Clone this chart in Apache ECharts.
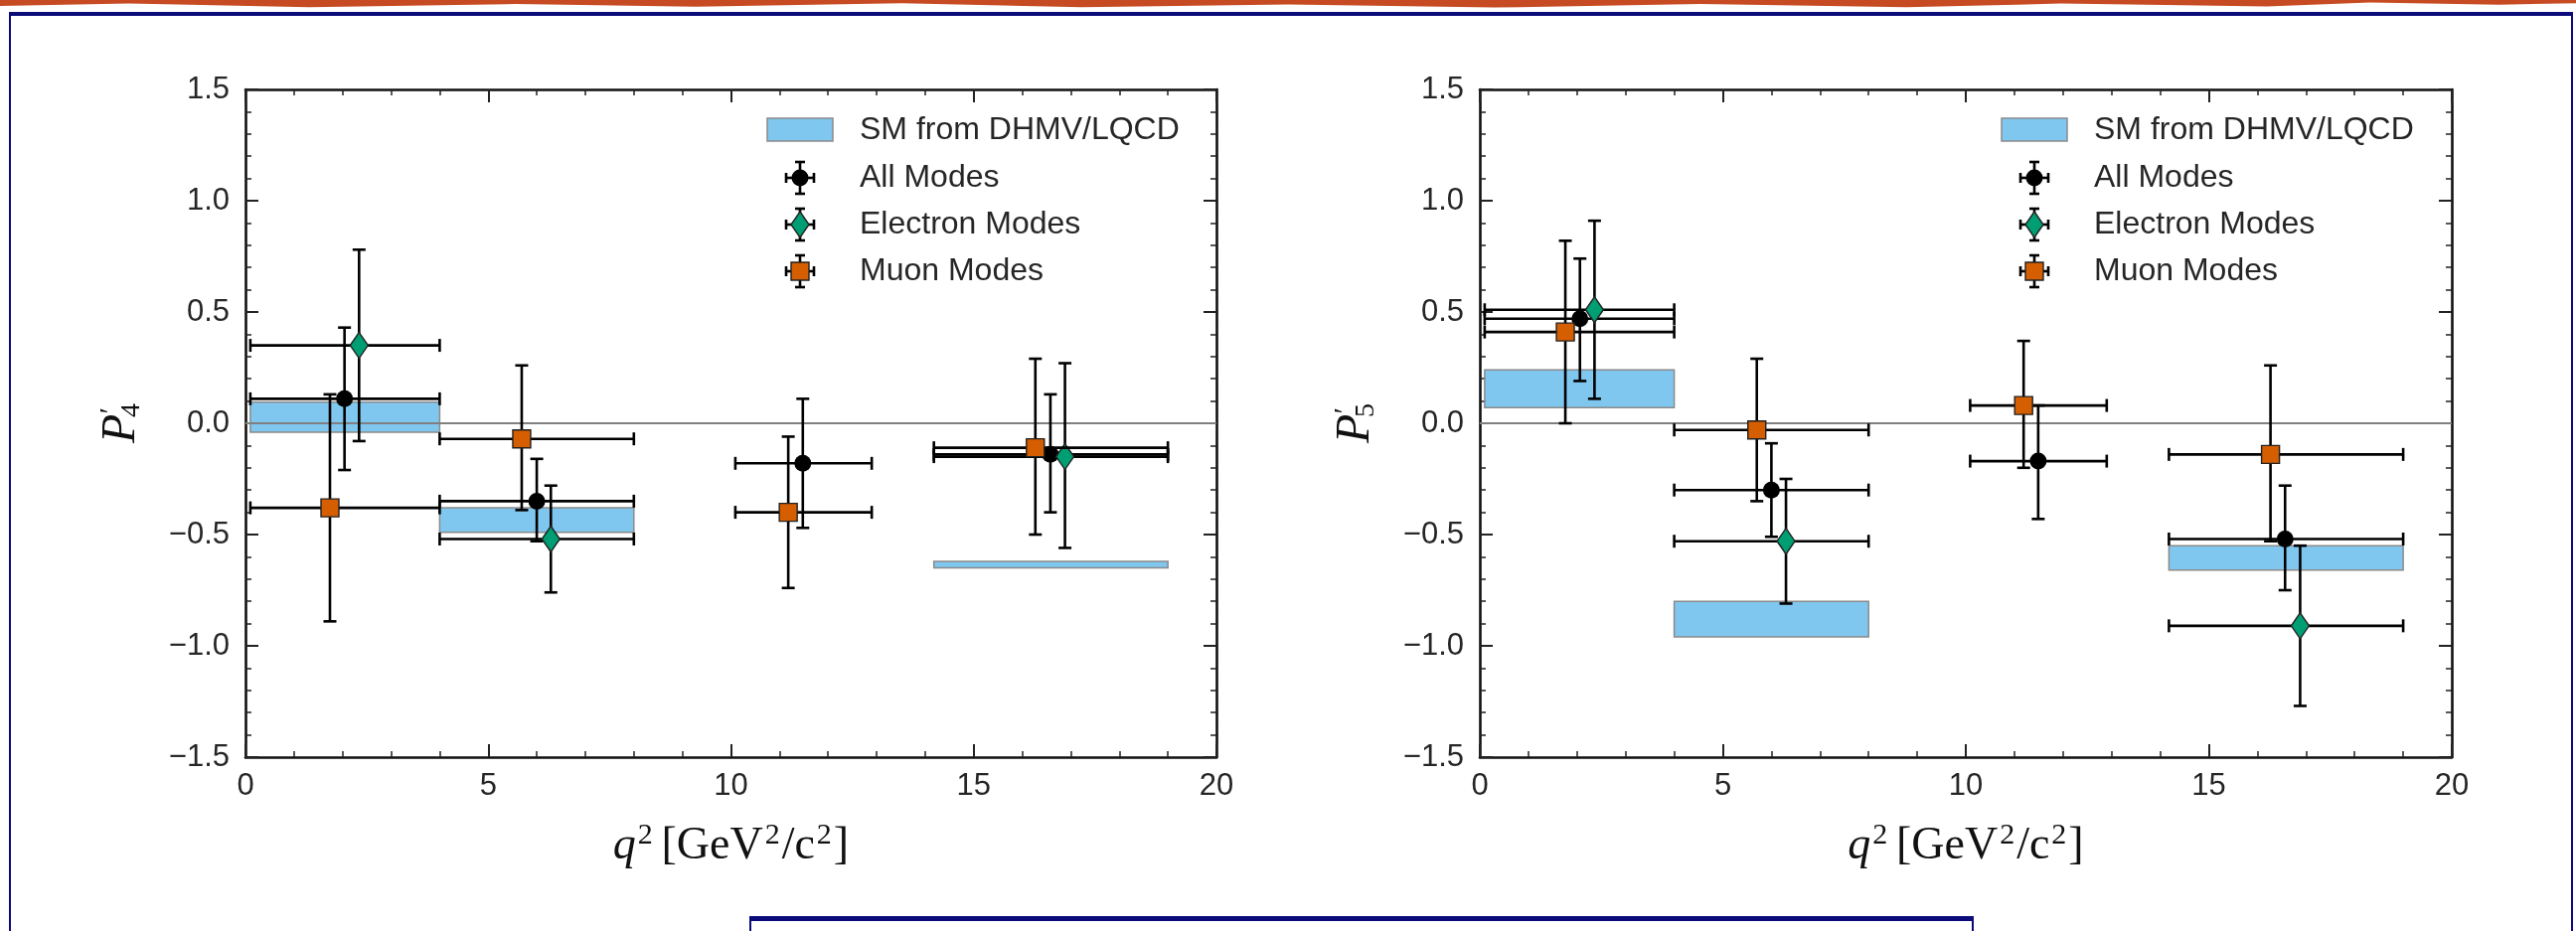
<!DOCTYPE html>
<html>
<head>
<meta charset="utf-8">
<title>P4' / P5'</title>
<script src="https://cdn.jsdelivr.net/npm/echarts@6/dist/echarts.min.js"></script>
<style>
  html, body { margin: 0; padding: 0; background: #fff; }
  #page { position: relative; width: 2592px; height: 937px; overflow: hidden; }
  #chart { position: absolute; left: 0; top: 0; width: 2592px; height: 937px; }
  .strip { position: absolute; left: 0; top: 0; width: 2592px; height: 8px; background: #c64b22;
    clip-path: polygon(0 0, 100% 0, 100% 40%, 97% 60%, 92% 30%, 88% 80%, 80% 45%, 74% 90%, 66% 50%, 58% 95%, 50% 55%, 42% 90%, 35% 40%, 27% 85%, 20% 50%, 12% 90%, 5% 45%, 0 75%); }
  .frame { position: absolute; left: 9px; top: 12px; width: 2576px; height: 940px;
    border-top: 4px solid #0b0b7a; border-left: 2px solid #0b0b7a; border-right: 2px solid #0b0b7a; pointer-events: none; }
  .box { position: absolute; left: 754px; top: 922px; width: 1228px; height: 40px;
    border-top: 5px solid #0b0b7a; border-left: 2px solid #0b0b7a; border-right: 2px solid #0b0b7a; pointer-events: none; }
</style>
</head>
<body>
<div id="page">
  <div id="chart"></div>
  <div class="strip"></div>
  <div class="frame"></div>
  <div class="box"></div>
</div>
<script>
/* ---------- q^2 bins ---------- */
const binLo = [0.10, 4.00, 10.09, 14.18];
const binHi = [4.00, 8.00, 12.90, 19.00];

/* ---------- P4' ---------- */
const p4AllX = [2.04, 6.00, 11.48, 16.58];
const p4AllY = [0.11, -0.35, -0.18, -0.14];
const p4AllUp = [0.32, 0.19, 0.29, 0.27];
const p4AllDn = [0.32, 0.18, 0.29, 0.26];
const p4AllBin = [0, 1, 2, 3];

const p4EleX = [2.34, 6.29, 16.88];
const p4EleY = [0.35, -0.52, -0.15];
const p4EleUp = [0.43, 0.24, 0.42];
const p4EleDn = [0.43, 0.24, 0.41];
const p4EleBin = [0, 1, 3];

const p4MuX = [1.74, 5.69, 11.18, 16.27];
const p4MuY = [-0.38, -0.07, -0.40, -0.11];
const p4MuUp = [0.51, 0.33, 0.34, 0.40];
const p4MuDn = [0.51, 0.32, 0.34, 0.39];
const p4MuBin = [0, 1, 2, 3];

const p4SmBin = [0, 1, 3];
const p4SmLo = [-0.04, -0.49, -0.65];
const p4SmHi = [0.095, -0.38, -0.62];

/* ---------- P5' ---------- */
const p5AllX = [2.06, 6.00, 11.49, 16.57];
const p5AllY = [0.47, -0.30, -0.17, -0.52];
const p5AllUp = [0.27, 0.21, 0.25, 0.24];
const p5AllDn = [0.28, 0.21, 0.26, 0.23];
const p5AllBin = [0, 1, 2, 3];

const p5EleX = [2.36, 6.30, 16.88];
const p5EleY = [0.51, -0.53, -0.91];
const p5EleUp = [0.40, 0.28, 0.36];
const p5EleDn = [0.40, 0.28, 0.36];
const p5EleBin = [0, 1, 3];

const p5MuX = [1.76, 5.70, 11.19, 16.27];
const p5MuY = [0.41, -0.03, 0.08, -0.14];
const p5MuUp = [0.41, 0.32, 0.29, 0.40];
const p5MuDn = [0.41, 0.32, 0.28, 0.39];
const p5MuBin = [0, 1, 2, 3];

const p5SmBin = [0, 1, 3];
const p5SmLo = [0.07, -0.96, -0.66];
const p5SmHi = [0.24, -0.80, -0.55];

/* ---------- axes ---------- */
const xTicks = [0, 5, 10, 15, 20];
const yTicks = [-1.5, -1.0, -0.5, 0.0, 0.5, 1.0, 1.5];
const legendNames = ['SM from DHMV/LQCD', 'All Modes', 'Electron Modes', 'Muon Modes'];

const BLUE = 'rgba(86, 180, 233, 0.75)';
const GREEN = '#009e73';
const ORANGE = '#d55e00';
const SANS = '"Liberation Sans", Arial, sans-serif';
const SERIF = '"Liberation Serif", "DejaVu Serif", serif';

function toPoints(xs, ys, ups, dns, bins) {
  return xs.map((x, i) => [x, ys[i], ups[i], dns[i], binLo[bins[i]], binHi[bins[i]]]);
}
function toBoxes(bins, lo, hi) {
  return bins.map((b, i) => [binLo[b], binHi[b], lo[i], hi[i]]);
}

function markerShape(kind, cx, cy) {
  const st = { stroke: '#222', lineWidth: 1.4 };
  if (kind === 'circle') return { type: 'circle', shape: { cx, cy, r: 8.5 }, style: { fill: '#000' } };
  if (kind === 'square') return { type: 'rect', shape: { x: cx - 9, y: cy - 9, width: 18, height: 18 }, style: { ...st, fill: ORANGE } };
  return { type: 'polygon', shape: { points: [[cx, cy - 13], [cx + 9, cy], [cx, cy + 13], [cx - 9, cy]] }, style: { ...st, fill: GREEN } };
}

function seg(x1, y1, x2, y2) {
  return { type: 'line', shape: { x1, y1, x2, y2 }, style: { stroke: '#000', lineWidth: 2.6 } };
}

function errorBars(kind) {
  return function (params, api) {
    const x = api.value(0), y = api.value(1);
    const c = api.coord([x, y]);
    const t = api.coord([x, y + api.value(2)]);
    const b = api.coord([x, y - api.value(3)]);
    const l = api.coord([api.value(4), y]);
    const r = api.coord([api.value(5), y]);
    const cap = 6.5;
    return {
      type: 'group',
      children: [
        seg(l[0], c[1], r[0], c[1]),
        seg(l[0], c[1] - cap, l[0], c[1] + cap),
        seg(r[0], c[1] - cap, r[0], c[1] + cap),
        seg(c[0], t[1], c[0], b[1]),
        seg(c[0] - cap, t[1], c[0] + cap, t[1]),
        seg(c[0] - cap, b[1], c[0] + cap, b[1]),
        markerShape(kind, c[0], c[1]),
      ],
    };
  };
}

function smBox(params, api) {
  const p1 = api.coord([api.value(0), api.value(3)]);
  const p2 = api.coord([api.value(1), api.value(2)]);
  return {
    type: 'rect',
    shape: { x: p1[0], y: p1[1], width: p2[0] - p1[0], height: p2[1] - p1[1] },
    style: { fill: BLUE, stroke: '#8a8a8a', lineWidth: 1.5 },
  };
}

function zeroLine(params, api) {
  const cs = params.coordSys;
  const y0 = api.coord([0, 0])[1];
  return { type: 'line', shape: { x1: cs.x, y1: y0, x2: cs.x + cs.width, y2: y0 }, style: { stroke: '#808080', lineWidth: 2.2 } };
}

/* ---------- layout ---------- */
const grids = [
  { left: 247, top: 90, width: 977, height: 672 },
  { left: 1489, top: 90, width: 978, height: 672 },
];
const yNames = ['{p|P}{s|′}{b|4}', '{p|P}{s|′}{b|5}'];

const xAxes = [];
const yAxes = [];
grids.forEach((g, i) => {
  const common = {
    gridIndex: i,
    type: 'value',
    axisLine: { show: true, onZero: false, lineStyle: { color: '#111', width: 2.6 } },
    axisTick: { show: true, inside: true, length: 13, lineStyle: { color: '#222', width: 2 } },
    minorTick: { show: true, splitNumber: 5, length: 6, lineStyle: { color: '#222', width: 1.5 } },
    splitLine: { show: false },
  };
  xAxes.push({
    ...common, position: 'bottom', min: xTicks[0], max: xTicks[xTicks.length - 1], interval: 5,
    axisLabel: { margin: 14, fontSize: 31, fontFamily: SANS, color: '#262626' },
    name: '{q|q}{s|2}  {t|[GeV}{s|2}{t|/c}{s|2}{t|]}',
    nameLocation: 'middle', nameGap: 64,
    nameTextStyle: {
      rich: {
        q: { fontFamily: SERIF, fontStyle: 'italic', fontSize: 46, color: '#111', lineHeight: 52 },
        t: { fontFamily: SERIF, fontSize: 46, color: '#111', lineHeight: 52 },
        s: { fontFamily: SERIF, fontSize: 30, color: '#111', verticalAlign: 'top', lineHeight: 52, padding: [0, 2, 22, 2] },
      },
    },
  });
  xAxes.push({ ...common, position: 'top', min: 0, max: 20, interval: 5, axisLabel: { show: false } });
  yAxes.push({
    ...common, position: 'left', min: yTicks[0], max: yTicks[yTicks.length - 1], interval: 0.5,
    axisLabel: {
      margin: 16, fontSize: 31, fontFamily: SANS, color: '#262626',
      formatter: (v) => (v < 0 ? '\u2212' + Math.abs(v).toFixed(1) : v.toFixed(1)),
    },
    name: yNames[i], nameLocation: 'middle', nameRotate: 90, nameGap: 100,
    nameTextStyle: {
      rich: {
        p: { fontFamily: SERIF, fontStyle: 'italic', fontSize: 48, color: '#111', lineHeight: 50 },
        s: { fontFamily: SERIF, fontSize: 30, color: '#111', verticalAlign: 'top', lineHeight: 50 },
        b: { fontFamily: SERIF, fontSize: 28, color: '#111', verticalAlign: 'bottom', lineHeight: 44, padding: [0, 0, 0, -10] },
      },
    },
  });
  yAxes.push({ ...common, position: 'right', min: -1.5, max: 1.5, interval: 0.5, axisLabel: { show: false } });
});

const panels = [
  {
    sm: toBoxes(p4SmBin, p4SmLo, p4SmHi),
    all: toPoints(p4AllX, p4AllY, p4AllUp, p4AllDn, p4AllBin),
    ele: toPoints(p4EleX, p4EleY, p4EleUp, p4EleDn, p4EleBin),
    mu: toPoints(p4MuX, p4MuY, p4MuUp, p4MuDn, p4MuBin),
  },
  {
    sm: toBoxes(p5SmBin, p5SmLo, p5SmHi),
    all: toPoints(p5AllX, p5AllY, p5AllUp, p5AllDn, p5AllBin),
    ele: toPoints(p5EleX, p5EleY, p5EleUp, p5EleDn, p5EleBin),
    mu: toPoints(p5MuX, p5MuY, p5MuUp, p5MuDn, p5MuBin),
  },
];

const series = [];
panels.forEach((p, i) => {
  const ax = { xAxisIndex: i * 2, yAxisIndex: i * 2 };
  series.push({ type: 'custom', name: legendNames[0], ...ax, z: 1, renderItem: smBox, encode: { x: [0, 1], y: [2, 3] }, data: p.sm });
  series.push({ type: 'custom', ...ax, z: 2, renderItem: zeroLine, data: [[0, 0]] });
  series.push({ type: 'custom', name: legendNames[1], ...ax, z: 3, renderItem: errorBars('circle'), encode: { x: 0, y: 1 }, data: p.all });
  series.push({ type: 'custom', name: legendNames[2], ...ax, z: 4, renderItem: errorBars('diamond'), encode: { x: 0, y: 1 }, data: p.ele });
  series.push({ type: 'custom', name: legendNames[3], ...ax, z: 5, renderItem: errorBars('square'), encode: { x: 0, y: 1 }, data: p.mu });
});

/* ---------- legend (drawn by hand: error-bar icons) ---------- */
function legendIcon(kind, cx, cy) {
  const h = 16, w = 14, cap = 5;
  return [
    seg(cx - w, cy, cx + w, cy),
    seg(cx - w, cy - cap, cx - w, cy + cap),
    seg(cx + w, cy - cap, cx + w, cy + cap),
    seg(cx, cy - h, cx, cy + h),
    seg(cx - cap, cy - h, cx + cap, cy - h),
    seg(cx - cap, cy + h, cx + cap, cy + h),
    markerShape(kind, cx, cy),
  ];
}
const graphic = [];
const rowY = [131, 179, 226, 273];
const kinds = ['circle', 'diamond', 'square'];
grids.forEach((g) => {
  const x0 = g.left + 525;
  graphic.push({ type: 'rect', shape: { x: x0, y: 119, width: 66, height: 23 }, style: { fill: BLUE, stroke: '#8a8a8a', lineWidth: 1.5 } });
  kinds.forEach((k, j) => {
    graphic.push({ type: 'group', children: legendIcon(k, x0 + 33, rowY[j + 1]) });
  });
  legendNames.forEach((n, j) => {
    graphic.push({
      type: 'text', x: g.left + 618, y: rowY[j],
      style: { text: n, font: '32px ' + SANS, fill: '#262626', verticalAlign: 'middle', textAlign: 'left' },
    });
  });
});

const chart = echarts.init(document.getElementById('chart'));
chart.setOption({
  animation: false,
  backgroundColor: 'transparent',
  grid: grids,
  xAxis: xAxes,
  yAxis: yAxes,
  series,
  graphic,
});
</script>
</body>
</html>
